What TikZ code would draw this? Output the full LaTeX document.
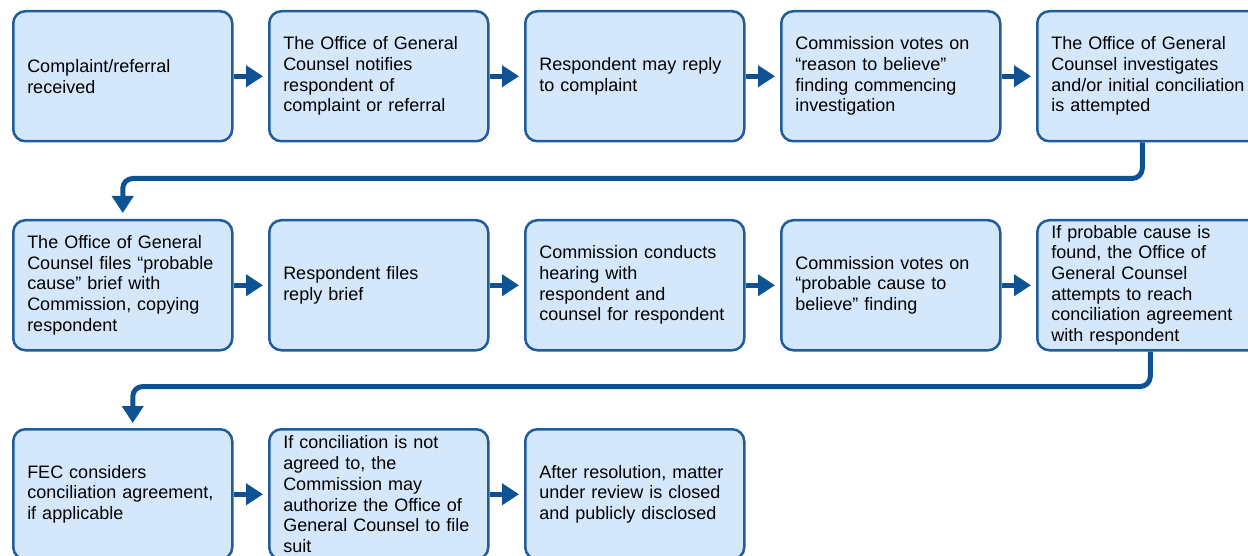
\documentclass[tikz,border=0pt]{standalone}
\usepackage{fontspec}
\setmainfont{Liberation Sans}
\usetikzlibrary{arrows.meta}
\definecolor{boxfill}{HTML}{D5E7FB}
\definecolor{boxline}{HTML}{1F5C99}
\definecolor{arrowc}{HTML}{0E5296}
\begin{document}
\begin{tikzpicture}[x=1pt,y=-1pt,
  box/.style={draw=boxline, fill=boxfill, line width=2.5pt, rounded corners=12pt,
    minimum width=219pt, minimum height=130pt, text width=191pt,
    inner xsep=14pt, inner ysep=3pt, align=left, anchor=north west,
    font=\fontsize{18}{20.7}\selectfont},
  flow/.style={draw=arrowc, line width=5pt, -{Triangle[length=17pt,width=21pt]}},
  link/.style={flow, rounded corners=10pt}]
\useasboundingbox (0,0) rectangle (1248,556);
% row 1
\node[box] (b1) at (12,10) {Complaint/referral\\received};
\node[box] (b2) at (268,10) {The Office of General\\Counsel notifies\\respondent of\\complaint or referral};
\node[box] (b3) at (524,10) {Respondent may reply\\to complaint};
\node[box] (b4) at (780,10) {Commission votes on\\“reason to believe”\\finding commencing\\investigation};
\node[box, text width=210pt] (b5) at (1036,10) {The Office of General\\Counsel investigates\\and/or initial conciliation\\is attempted};
% row 2
\node[box] (b6) at (12,219) {The Office of General\\Counsel files “probable\\cause” brief with\\Commission, copying\\respondent};
\node[box] (b7) at (268,219) {Respondent files\\reply brief};
\node[box] (b8) at (524,219) {Commission conducts\\hearing with\\respondent and\\counsel for respondent};
\node[box] (b9) at (780,219) {Commission votes on\\“probable cause to\\believe” finding};
\node[box, text width=210pt] (b10) at (1036,219) {If probable cause is\\found, the Office of\\General Counsel\\attempts to reach\\conciliation agreement\\with respondent};
% row 3
\node[box] (b11) at (12,428) {FEC considers\\conciliation agreement,\\if applicable};
\node[box] (b12) at (268,428) {If conciliation is not\\agreed to, the\\Commission may\\authorize the Office of\\General Counsel to file\\suit};
\node[box] (b13) at (524,428) {After resolution, matter\\under review is closed\\and publicly disclosed};
% arrows
\foreach \a/\b in {b1/b2,b2/b3,b3/b4,b4/b5,b6/b7,b7/b8,b8/b9,b9/b10,b11/b12,b12/b13}
  \draw[flow] (\a.east) -- ([xshift=-5pt]\b.west);
\draw[link] ([xshift=-14pt]b5.south) -- ++(0,36) -| ([yshift=6pt]b6.north);
\draw[link] ([xshift=-6pt]b10.south) -- ++(0,35) -| ([xshift=10pt,yshift=5pt]b11.north);
\end{tikzpicture}
\end{document}
